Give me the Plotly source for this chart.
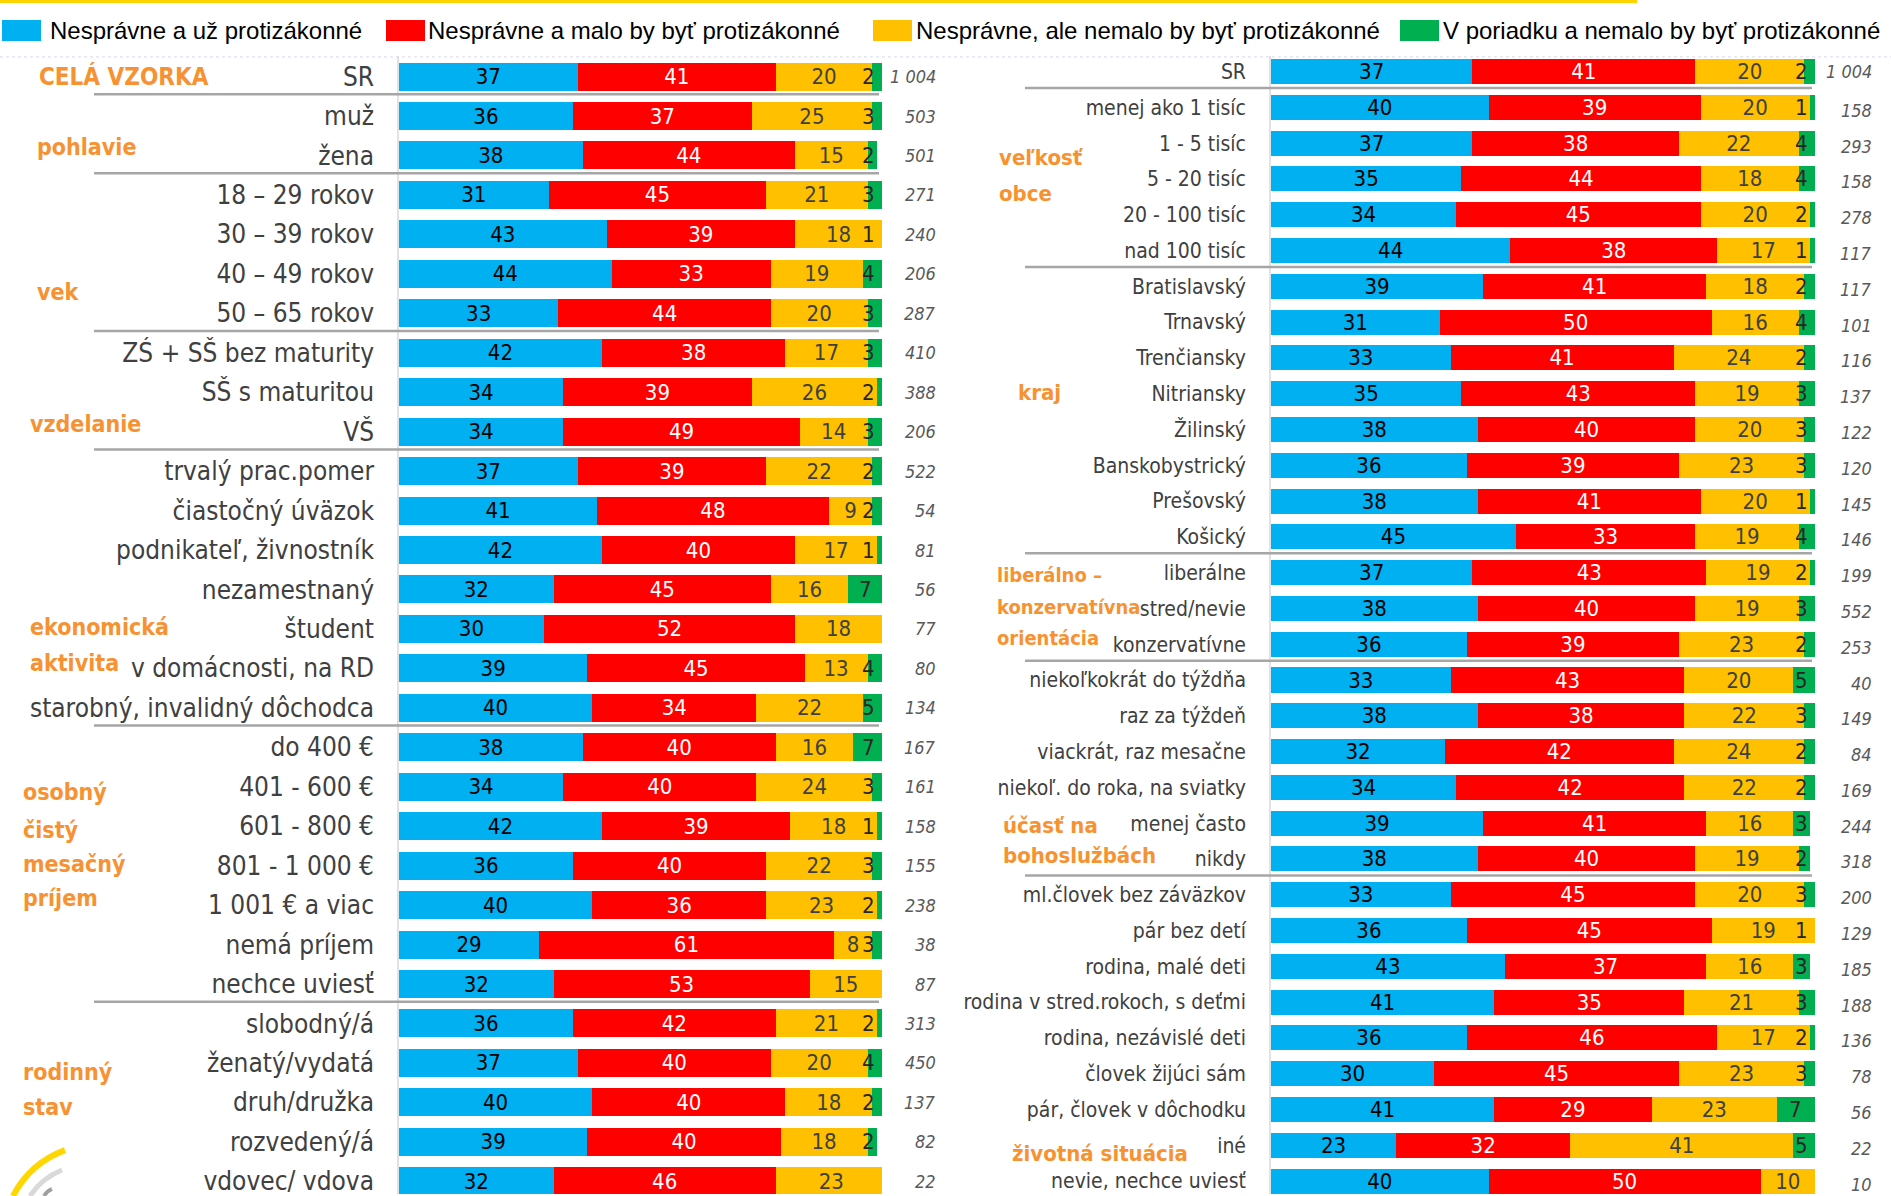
import plotly.graph_objects as go

W, H = 1891, 1196

series_names = [
    "Nesprávne a už protizákonné",
    "Nesprávne a malo by byť protizákonné",
    "Nesprávne, ale nemalo by byť protizákonné",
    "V poriadku a nemalo by byť protizákonné",
]

# ---------------- left panel data ----------------
left_cats = ["SR", "muž", "žena", "18 – 29 rokov", "30 – 39 rokov", "40 – 49 rokov", "50 – 65 rokov",
             "ZŚ + SŠ bez maturity", "SŠ s maturitou", "VŠ", "trvalý prac.pomer", "čiastočný úväzok",
             "podnikateľ, živnostník", "nezamestnaný", "študent", "v domácnosti, na RD",
             "starobný, invalidný dôchodca", "do 400 €", "401 - 600 €", "601 - 800 €", "801 - 1 000 €",
             "1 001 € a viac", "nemá príjem", "nechce uviesť", "slobodný/á", "ženatý/vydatá",
             "druh/družka", "rozvedený/á", "vdovec/ vdova"]
left_blue = [37, 36, 38, 31, 43, 44, 33, 42, 34, 34, 37, 41, 42, 32, 30, 39, 40, 38, 34, 42, 36, 40, 29, 32, 36, 37, 40, 39, 32]
left_red = [41, 37, 44, 45, 39, 33, 44, 38, 39, 49, 39, 48, 40, 45, 52, 45, 34, 40, 40, 39, 40, 36, 61, 53, 42, 40, 40, 40, 46]
left_yellow = [20, 25, 15, 21, 18, 19, 20, 17, 26, 14, 22, 9, 17, 16, 18, 13, 22, 16, 24, 18, 22, 23, 8, 15, 21, 20, 18, 18, 23]
left_green = [2, 3, 2, 3, 1, 4, 3, 3, 2, 3, 2, 2, 1, 7, 0, 4, 5, 7, 3, 1, 3, 2, 3, 0, 2, 4, 2, 2, 0]
left_n = ["1 004", "503", "501", "271", "240", "206", "287", "410", "388", "206", "522", "54", "81", "56", "77",
          "80", "134", "167", "161", "158", "155", "238", "38", "87", "313", "450", "137", "82", "22"]
left_groups = [("CELÁ VZORKA", 37, 77, 24), ("pohlavie", 35, 147, 23), ("vek", 35, 292, 23),
               ("vzdelanie", 28, 425, 23), ("ekonomická", 28, 628, 23), ("aktivita", 28, 664, 23),
               ("osobný", 21, 793, 23), ("čistý", 21, 831, 23), ("mesačný", 21, 865, 23),
               ("príjem", 21, 900, 23), ("rodinný", 21, 1074, 23), ("stav", 21, 1109, 23)]
left_breaks = [0, 2, 6, 9, 16, 23]

# ---------------- right panel data ----------------
right_cats = ["SR", "menej ako 1 tisíc", "1 - 5 tisíc", "5 - 20 tisíc", "20 - 100 tisíc", "nad 100 tisíc",
              "Bratislavský", "Trnavský", "Trenčiansky", "Nitriansky", "Žilinský", "Banskobystrický",
              "Prešovský", "Košický", "liberálne", "stred/nevie", "konzervatívne", "niekoľkokrát do týždňa",
              "raz za týždeň", "viackrát, raz mesačne", "niekoľ. do roka, na sviatky", "menej často", "nikdy",
              "ml.človek bez záväzkov", "pár bez detí", "rodina, malé deti", "rodina v stred.rokoch, s deťmi",
              "rodina, nezávislé deti", "človek žijúci sám", "pár, človek v dôchodku", "iné",
              "nevie, nechce uviesť"]
right_blue = [37, 40, 37, 35, 34, 44, 39, 31, 33, 35, 38, 36, 38, 45, 37, 38, 36, 33, 38, 32, 34, 39, 38, 33, 36, 43, 41, 36, 30, 41, 23, 40]
right_red = [41, 39, 38, 44, 45, 38, 41, 50, 41, 43, 40, 39, 41, 33, 43, 40, 39, 43, 38, 42, 42, 41, 40, 45, 45, 37, 35, 46, 45, 29, 32, 50]
right_yellow = [20, 20, 22, 18, 20, 17, 18, 16, 24, 19, 20, 23, 20, 19, 19, 19, 23, 20, 22, 24, 22, 16, 19, 20, 19, 16, 21, 17, 23, 23, 41, 10]
right_green = [2, 1, 4, 4, 2, 1, 2, 4, 2, 3, 3, 3, 1, 4, 2, 3, 2, 5, 3, 2, 2, 3, 2, 3, 1, 3, 3, 2, 3, 7, 5, 0]
right_n = ["1 004", "158", "293", "158", "278", "117", "117", "101", "116", "137", "122", "120", "145", "146",
           "199", "552", "253", "40", "149", "84", "169", "244", "318", "200", "129", "185", "188", "136", "78",
           "56", "22", "10"]
right_groups = [("veľkosť", 997, 158, 22), ("obce", 997, 194, 22), ("kraj", 1016, 393, 22),
                ("liberálno –", 995, 576, 20), ("konzervatívna", 995, 608, 20), ("orientácia", 995, 639, 20),
                ("účasť na", 1001, 827, 22), ("bohoslužbách", 1001, 857, 22), ("životná situácia", 1010, 1155, 22)]
right_breaks = [0, 5, 13, 16, 22]

# ---------------- styling ----------------
NARROW = "Liberation Sans Narrow, Arial Narrow, DejaVu Sans Condensed, sans-serif"
LEGEND_FONT = "Liberation Sans, Arial, sans-serif"
colors = ["#00B0F0", "#FF0000", "#FFC000", "#00B050"]
text_colors = ["#000000", "#FFFFFF", "#404040", "#262626"]
ORANGE = "#F79232"


def px(x):
    return x / W


def py(y):
    return 1 - y / H


panels = [
    dict(cats=left_cats, vals=[left_blue, left_red, left_yellow, left_green], n=left_n,
         groups=left_groups, breaks=left_breaks, xa="x", ya="y", x0=399, x1=882,
         first=76.7, step=39.52, width=0.71, nx=938, line_x=(94, 879), brk=0.45, nshift=0),
    dict(cats=right_cats, vals=[right_blue, right_red, right_yellow, right_green], n=right_n,
         groups=right_groups, breaks=right_breaks, xa="x2", ya="y2", x0=1271, x1=1815,
         first=71.7, step=35.85, width=0.70, nx=1874, line_x=(1025, 1812), brk=0.46, nshift=-3),
]

fig = go.Figure()
shapes = []
annotations = []

for p in panels:
    for i in range(4):
        vals = p["vals"][i]
        fig.add_trace(go.Bar(
            y=p["cats"], x=vals, orientation="h", name=series_names[i],
            marker=dict(color=colors[i], line=dict(width=0)),
            text=[str(v) if (v and i < 3) else "" for v in vals],
            textposition="inside", insidetextanchor="middle", textangle=0,
            textfont=dict(color=text_colors[i], size=22, family=NARROW),
            width=p["width"], xaxis=p["xa"], yaxis=p["ya"], showlegend=False,
            hoverinfo="skip",
        ))
    # labels of the (narrow) last segment: centred, but kept inside the bar end
    cap = 100 - 13.5 * 100 / (p["x1"] - p["x0"])
    for k in range(len(p["cats"])):
        g = p["vals"][3][k]
        if not g:
            continue
        start = p["vals"][0][k] + p["vals"][1][k] + p["vals"][2][k]
        annotations.append(dict(
            x=min(start + g / 2, cap), xref=p["xa"], y=k, yref=p["ya"],
            text=str(g), showarrow=False, xanchor="center", yanchor="middle",
            font=dict(family=NARROW, size=22, color=text_colors[3]),
        ))
    # N values
    for k, nval in enumerate(p["n"]):
        annotations.append(dict(
            x=px(p["nx"]), xref="paper", xanchor="right", y=k, yref=p["ya"], yanchor="middle",
            text=f"<i>{nval}</i>", showarrow=False,
            yshift=(0 if k == 0 else p["nshift"]),
            font=dict(family=NARROW, size=18, color="#595959"),
        ))
    # group labels
    for txt, gx, gy, gs in p["groups"]:
        annotations.append(dict(
            x=px(gx), xref="paper", xanchor="left", y=py(gy), yref="paper", yanchor="middle",
            text=f"<b>{txt}</b>", showarrow=False,
            font=dict(family=NARROW, size=gs, color=ORANGE),
        ))
    # separators
    for b in p["breaks"]:
        shapes.append(dict(type="line", xref="paper", yref=p["ya"],
                           x0=px(p["line_x"][0]), x1=px(p["line_x"][1]),
                           y0=b + p["brk"], y1=b + p["brk"],
                           line=dict(color="#A6A6A6", width=2.5)))
    # thin axis line
    shapes.append(dict(type="line", xref="paper", yref="paper",
                       x0=px(p["x0"] - 1), x1=px(p["x0"] - 1), y0=py(56), y1=0,
                       line=dict(color="#D9D9D9", width=1.5), layer="below"))

# top decorations
shapes.append(dict(type="rect", xref="paper", yref="paper", x0=0, x1=px(1637), y0=py(0), y1=py(3),
                   fillcolor="#FFD200", line=dict(width=0)))
shapes.append(dict(type="line", xref="paper", yref="paper", x0=0, x1=1, y0=py(57), y1=py(57),
                   line=dict(color="#D8D8F0", width=1, dash="dot")))

# legend (manual)
legend_pos = [(2, 48), (386, 426), (873, 914), (1400, 1441)]
for i, (sx, tx) in enumerate(legend_pos):
    shapes.append(dict(type="rect", xref="paper", yref="paper", x0=px(sx), x1=px(sx + 39),
                       y0=py(20), y1=py(41), fillcolor=colors[i], line=dict(width=0)))
    annotations.append(dict(x=px(tx), xref="paper", xanchor="left", y=py(31), yref="paper",
                            yanchor="middle", text=series_names[i], showarrow=False,
                            font=dict(family=LEGEND_FONT, size=24, color="#000000")))


# logo arcs (bottom left)
def path(points):
    (ax, ay), (cx, cy), (bx, by) = points
    return f"M {px(ax)} {py(ay)} Q {px(cx)} {py(cy)} {px(bx)} {py(by)}"


shapes.append(dict(type="path", xref="paper", yref="paper",
                   path=path([(13, 1198), (30, 1165), (65, 1152)]),
                   line=dict(color="#FFD700", width=6)))
shapes.append(dict(type="path", xref="paper", yref="paper",
                   path=path([(30, 1198), (42, 1180), (62, 1172)]),
                   line=dict(color="#D9D9D9", width=5)))
shapes.append(dict(type="path", xref="paper", yref="paper",
                   path=path([(44, 1198), (47, 1193), (52, 1191)]),
                   line=dict(color="#A0A0A0", width=4)))

axis_common = dict(showgrid=False, zeroline=False, showticklabels=False, showline=False, ticks="")
fig.update_layout(
    width=W, height=H, margin=dict(l=0, r=0, t=0, b=0),
    paper_bgcolor="white", plot_bgcolor="white",
    barmode="stack",
    uniformtext=dict(minsize=22, mode="show"),
    xaxis=dict(domain=[px(399), px(882)], range=[0, 100], anchor="y", **axis_common),
    xaxis2=dict(domain=[px(1271), px(1815)], range=[0, 100], anchor="y2", **axis_common),
    yaxis=dict(domain=[0, 1], anchor="x", type="category",
               range=[(H - 76.7) / 39.52, -76.7 / 39.52],
               showgrid=False, zeroline=False, showline=False, ticks="",
               ticklabelstandoff=24,
               tickfont=dict(family=NARROW, size=26, color="#404040")),
    yaxis2=dict(domain=[0, 1], anchor="x2", type="category",
                range=[(H - 71.7) / 35.85, -71.7 / 35.85],
                showgrid=False, zeroline=False, showline=False, ticks="",
                ticklabelstandoff=24,
                tickfont=dict(family=NARROW, size=21, color="#404040")),
    shapes=shapes, annotations=annotations,
)

fig.write_html("out.html", config={"displayModeBar": False},
               post_script="document.body.style.margin='0';document.body.style.overflow='hidden';")
